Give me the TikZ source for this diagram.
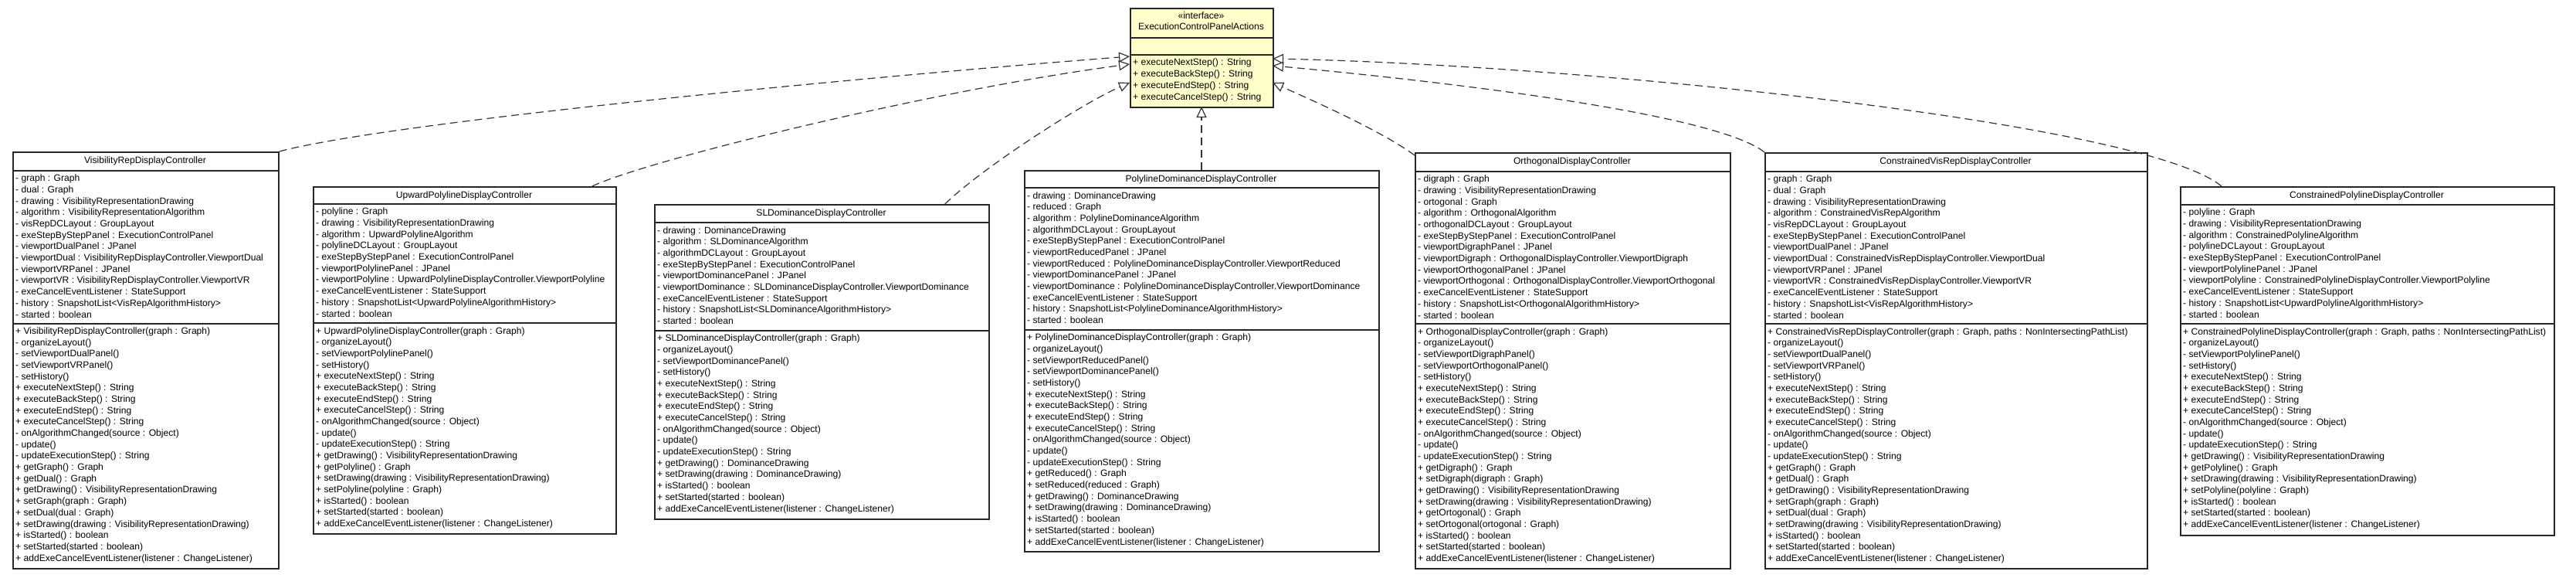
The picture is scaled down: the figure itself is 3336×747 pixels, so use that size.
\documentclass[tikz,border=0pt]{standalone}
\usepackage{fontspec}
\usetikzlibrary{arrows.meta}
\newfontfamily\umlfamily{Liberation Sans}
\newcommand{\umlfont}{\umlfamily\fontsize{12.1pt}{14.67pt}\selectfont}
\definecolor{ifaceyellow}{HTML}{FFFFCC}
\tikzset{
    classbox/.style={draw=black!85, line width=1.8pt, fill=white, inner sep=0pt, anchor=north west},
    ifacebox/.style={classbox, fill=ifaceyellow},
    classname/.style={anchor=base, inner sep=0pt, font=\umlfont},
    members/.style={anchor=base west, align=left, inner sep=0pt, font=\umlfont},
    divider/.style={draw=black!85, line width=1.8pt},
    realizes/.style={draw=black!80, line width=1.2pt, dash pattern=on 10pt off 6pt,
        -{Triangle[fill=white, length=14pt, width=13pt]}}
}
\begin{document}
\begin{tikzpicture}[x=1pt, y=-1pt]
        \useasboundingbox (0,0) rectangle (3336,747);

        \node[ifacebox, minimum width=185pt, minimum height=128pt] (iface) at (1463,10) {};
        \node[classname] at (1555.5,24) {«interface»};
        \node[classname] at (1555.5,38.5) {ExecutionControlPanelActions};
        \draw[divider] (iface.west |- 0,49) -- (iface.east |- 0,49);
        \draw[divider] (iface.west |- 0,71) -- (iface.east |- 0,71);
        \node[members] (ifacemeth) at (1467,129) {+ executeNextStep() : String\\+ executeBackStep() : String\\+ executeEndStep() : String\\+ executeCancelStep() : String};

        \node[classbox, minimum width=344pt, minimum height=539pt] (vis) at (16,196) {};
        \node[classname] at (188,211) {VisibilityRepDisplayController};
        \draw[divider] (vis.west |- 0,221) -- (vis.east |- 0,221);
        \draw[divider] (vis.west |- 0,419) -- (vis.east |- 0,419);
        \node[members] (visattr) at (20,411) {- graph : Graph\\- dual : Graph\\- drawing : VisibilityRepresentationDrawing\\- algorithm : VisibilityRepresentationAlgorithm\\- visRepDCLayout : GroupLayout\\- exeStepByStepPanel : ExecutionControlPanel\\- viewportDualPanel : JPanel\\- viewportDual : VisibilityRepDisplayController.ViewportDual\\- viewportVRPanel : JPanel\\- viewportVR : VisibilityRepDisplayController.ViewportVR\\- exeCancelEventListener : StateSupport\\- history : SnapshotList<VisRepAlgorithmHistory>\\- started : boolean};
        \node[members] (vismeth) at (20,726) {+ VisibilityRepDisplayController(graph : Graph)\\- organizeLayout()\\- setViewportDualPanel()\\- setViewportVRPanel()\\- setHistory()\\+ executeNextStep() : String\\+ executeBackStep() : String\\+ executeEndStep() : String\\+ executeCancelStep() : String\\- onAlgorithmChanged(source : Object)\\- update()\\- updateExecutionStep() : String\\+ getGraph() : Graph\\+ getDual() : Graph\\+ getDrawing() : VisibilityRepresentationDrawing\\+ setGraph(graph : Graph)\\+ setDual(dual : Graph)\\+ setDrawing(drawing : VisibilityRepresentationDrawing)\\+ isStarted() : boolean\\+ setStarted(started : boolean)\\+ addExeCancelEventListener(listener : ChangeListener)};

        \node[classbox, minimum width=392pt, minimum height=449pt] (upw) at (405,241) {};
        \node[classname] at (601,256) {UpwardPolylineDisplayController};
        \draw[divider] (upw.west |- 0,264) -- (upw.east |- 0,264);
        \draw[divider] (upw.west |- 0,418) -- (upw.east |- 0,418);
        \node[members] (upwattr) at (409,410) {- polyline : Graph\\- drawing : VisibilityRepresentationDrawing\\- algorithm : UpwardPolylineAlgorithm\\- polylineDCLayout : GroupLayout\\- exeStepByStepPanel : ExecutionControlPanel\\- viewportPolylinePanel : JPanel\\- viewportPolyline : UpwardPolylineDisplayController.ViewportPolyline\\- exeCancelEventListener : StateSupport\\- history : SnapshotList<UpwardPolylineAlgorithmHistory>\\- started : boolean};
        \node[members] (upwmeth) at (409,681.5) {+ UpwardPolylineDisplayController(graph : Graph)\\- organizeLayout()\\- setViewportPolylinePanel()\\- setHistory()\\+ executeNextStep() : String\\+ executeBackStep() : String\\+ executeEndStep() : String\\+ executeCancelStep() : String\\- onAlgorithmChanged(source : Object)\\- update()\\- updateExecutionStep() : String\\+ getDrawing() : VisibilityRepresentationDrawing\\+ getPolyline() : Graph\\+ setDrawing(drawing : VisibilityRepresentationDrawing)\\+ setPolyline(polyline : Graph)\\+ isStarted() : boolean\\+ setStarted(started : boolean)\\+ addExeCancelEventListener(listener : ChangeListener)};

        \node[classbox, minimum width=433pt, minimum height=407pt] (sld) at (847,264) {};
        \node[classname] at (1063.5,279) {SLDominanceDisplayController};
        \draw[divider] (sld.west |- 0,288) -- (sld.east |- 0,288);
        \draw[divider] (sld.west |- 0,428) -- (sld.east |- 0,428);
        \node[members] (sldattr) at (851,419.5) {- drawing : DominanceDrawing\\- algorithm : SLDominanceAlgorithm\\- algorithmDCLayout : GroupLayout\\- exeStepByStepPanel : ExecutionControlPanel\\- viewportDominancePanel : JPanel\\- viewportDominance : SLDominanceDisplayController.ViewportDominance\\- exeCancelEventListener : StateSupport\\- history : SnapshotList<SLDominanceAlgorithmHistory>\\- started : boolean};
        \node[members] (sldmeth) at (851,662) {+ SLDominanceDisplayController(graph : Graph)\\- organizeLayout()\\- setViewportDominancePanel()\\- setHistory()\\+ executeNextStep() : String\\+ executeBackStep() : String\\+ executeEndStep() : String\\+ executeCancelStep() : String\\- onAlgorithmChanged(source : Object)\\- update()\\- updateExecutionStep() : String\\+ getDrawing() : DominanceDrawing\\+ setDrawing(drawing : DominanceDrawing)\\+ isStarted() : boolean\\+ setStarted(started : boolean)\\+ addExeCancelEventListener(listener : ChangeListener)};

        \node[classbox, minimum width=459pt, minimum height=493pt] (pld) at (1326,220) {};
        \node[classname] at (1555.5,235) {PolylineDominanceDisplayController};
        \draw[divider] (pld.west |- 0,243) -- (pld.east |- 0,243);
        \draw[divider] (pld.west |- 0,427) -- (pld.east |- 0,427);
        \node[members] (pldattr) at (1330,418.5) {- drawing : DominanceDrawing\\- reduced : Graph\\- algorithm : PolylineDominanceAlgorithm\\- algorithmDCLayout : GroupLayout\\- exeStepByStepPanel : ExecutionControlPanel\\- viewportReducedPanel : JPanel\\- viewportReduced : PolylineDominanceDisplayController.ViewportReduced\\- viewportDominancePanel : JPanel\\- viewportDominance : PolylineDominanceDisplayController.ViewportDominance\\- exeCancelEventListener : StateSupport\\- history : SnapshotList<PolylineDominanceAlgorithmHistory>\\- started : boolean};
        \node[members] (pldmeth) at (1330,705) {+ PolylineDominanceDisplayController(graph : Graph)\\- organizeLayout()\\- setViewportReducedPanel()\\- setViewportDominancePanel()\\- setHistory()\\+ executeNextStep() : String\\+ executeBackStep() : String\\+ executeEndStep() : String\\+ executeCancelStep() : String\\- onAlgorithmChanged(source : Object)\\- update()\\- updateExecutionStep() : String\\+ getReduced() : Graph\\+ setReduced(reduced : Graph)\\+ getDrawing() : DominanceDrawing\\+ setDrawing(drawing : DominanceDrawing)\\+ isStarted() : boolean\\+ setStarted(started : boolean)\\+ addExeCancelEventListener(listener : ChangeListener)};

        \node[classbox, minimum width=408pt, minimum height=538pt] (ort) at (1832,197) {};
        \node[classname] at (2036,212) {OrthogonalDisplayController};
        \draw[divider] (ort.west |- 0,222) -- (ort.east |- 0,222);
        \draw[divider] (ort.west |- 0,419) -- (ort.east |- 0,419);
        \node[members] (ortattr) at (1836,412) {- digraph : Graph\\- drawing : VisibilityRepresentationDrawing\\- ortogonal : Graph\\- algorithm : OrthogonalAlgorithm\\- orthogonalDCLayout : GroupLayout\\- exeStepByStepPanel : ExecutionControlPanel\\- viewportDigraphPanel : JPanel\\- viewportDigraph : OrthogonalDisplayController.ViewportDigraph\\- viewportOrthogonalPanel : JPanel\\- viewportOrthogonal : OrthogonalDisplayController.ViewportOrthogonal\\- exeCancelEventListener : StateSupport\\- history : SnapshotList<OrthogonalAlgorithmHistory>\\- started : boolean};
        \node[members] (ortmeth) at (1836,726.5) {+ OrthogonalDisplayController(graph : Graph)\\- organizeLayout()\\- setViewportDigraphPanel()\\- setViewportOrthogonalPanel()\\- setHistory()\\+ executeNextStep() : String\\+ executeBackStep() : String\\+ executeEndStep() : String\\+ executeCancelStep() : String\\- onAlgorithmChanged(source : Object)\\- update()\\- updateExecutionStep() : String\\+ getDigraph() : Graph\\+ setDigraph(digraph : Graph)\\+ getDrawing() : VisibilityRepresentationDrawing\\+ setDrawing(drawing : VisibilityRepresentationDrawing)\\+ getOrtogonal() : Graph\\+ setOrtogonal(ortogonal : Graph)\\+ isStarted() : boolean\\+ setStarted(started : boolean)\\+ addExeCancelEventListener(listener : ChangeListener)};

        \node[classbox, minimum width=495pt, minimum height=538pt] (cvr) at (2285,197) {};
        \node[classname] at (2532.5,212) {ConstrainedVisRepDisplayController};
        \draw[divider] (cvr.west |- 0,222) -- (cvr.east |- 0,222);
        \draw[divider] (cvr.west |- 0,419) -- (cvr.east |- 0,419);
        \node[members] (cvrattr) at (2289,412) {- graph : Graph\\- dual : Graph\\- drawing : VisibilityRepresentationDrawing\\- algorithm : ConstrainedVisRepAlgorithm\\- visRepDCLayout : GroupLayout\\- exeStepByStepPanel : ExecutionControlPanel\\- viewportDualPanel : JPanel\\- viewportDual : ConstrainedVisRepDisplayController.ViewportDual\\- viewportVRPanel : JPanel\\- viewportVR : ConstrainedVisRepDisplayController.ViewportVR\\- exeCancelEventListener : StateSupport\\- history : SnapshotList<VisRepAlgorithmHistory>\\- started : boolean};
        \node[members] (cvrmeth) at (2289,726.5) {+ ConstrainedVisRepDisplayController(graph : Graph, paths : NonIntersectingPathList)\\- organizeLayout()\\- setViewportDualPanel()\\- setViewportVRPanel()\\- setHistory()\\+ executeNextStep() : String\\+ executeBackStep() : String\\+ executeEndStep() : String\\+ executeCancelStep() : String\\- onAlgorithmChanged(source : Object)\\- update()\\- updateExecutionStep() : String\\+ getGraph() : Graph\\+ getDual() : Graph\\+ getDrawing() : VisibilityRepresentationDrawing\\+ setGraph(graph : Graph)\\+ setDual(dual : Graph)\\+ setDrawing(drawing : VisibilityRepresentationDrawing)\\+ isStarted() : boolean\\+ setStarted(started : boolean)\\+ addExeCancelEventListener(listener : ChangeListener)};

        \node[classbox, minimum width=484pt, minimum height=451pt] (cpl) at (2823,241) {};
        \node[classname] at (3065,256) {ConstrainedPolylineDisplayController};
        \draw[divider] (cpl.west |- 0,265) -- (cpl.east |- 0,265);
        \draw[divider] (cpl.west |- 0,419) -- (cpl.east |- 0,419);
        \node[members] (cplattr) at (2827,411) {- polyline : Graph\\- drawing : VisibilityRepresentationDrawing\\- algorithm : ConstrainedPolylineAlgorithm\\- polylineDCLayout : GroupLayout\\- exeStepByStepPanel : ExecutionControlPanel\\- viewportPolylinePanel : JPanel\\- viewportPolyline : ConstrainedPolylineDisplayController.ViewportPolyline\\- exeCancelEventListener : StateSupport\\- history : SnapshotList<UpwardPolylineAlgorithmHistory>\\- started : boolean};
        \node[members] (cplmeth) at (2827,682.5) {+ ConstrainedPolylineDisplayController(graph : Graph, paths : NonIntersectingPathList)\\- organizeLayout()\\- setViewportPolylinePanel()\\- setHistory()\\+ executeNextStep() : String\\+ executeBackStep() : String\\+ executeEndStep() : String\\+ executeCancelStep() : String\\- onAlgorithmChanged(source : Object)\\- update()\\- updateExecutionStep() : String\\+ getDrawing() : VisibilityRepresentationDrawing\\+ getPolyline() : Graph\\+ setDrawing(drawing : VisibilityRepresentationDrawing)\\+ setPolyline(polyline : Graph)\\+ isStarted() : boolean\\+ setStarted(started : boolean)\\+ addExeCancelEventListener(listener : ChangeListener)};

        \coordinate (ifL1) at (1463,73);
        \coordinate (ifL2) at (1463,83);
        \coordinate (ifL3) at (1463,107);
        \coordinate (ifB) at (1556,138);
        \coordinate (ifR3) at (1648,107);
        \coordinate (ifR2) at (1648,85);
        \coordinate (ifR1) at (1648,76);

        \draw[realizes] (vis.north east) .. controls (512,156) and (1163,96) .. (ifL1);
        \draw[realizes] (upw.north east) ++(-32,0) .. controls (845,205) and (1213,116) .. (ifL2);
        \draw[realizes] (sld.north east) ++(-58,0) .. controls (1272,217) and (1403,133) .. (ifL3);
        \draw[realizes] (pld.north west) ++(230,0) -- (ifB);
        \draw[realizes] (ort.north west) ++(0,4) .. controls (1790,170) and (1700,130) .. (ifR3);
        \draw[realizes] (cvr.north west) .. controls (2225,149) and (1898,108) .. (ifR2);
        \draw[realizes] (cpl.north west) ++(54,0) .. controls (2777,158) and (2048,84) .. (ifR1);

    \end{tikzpicture}
\end{document}
